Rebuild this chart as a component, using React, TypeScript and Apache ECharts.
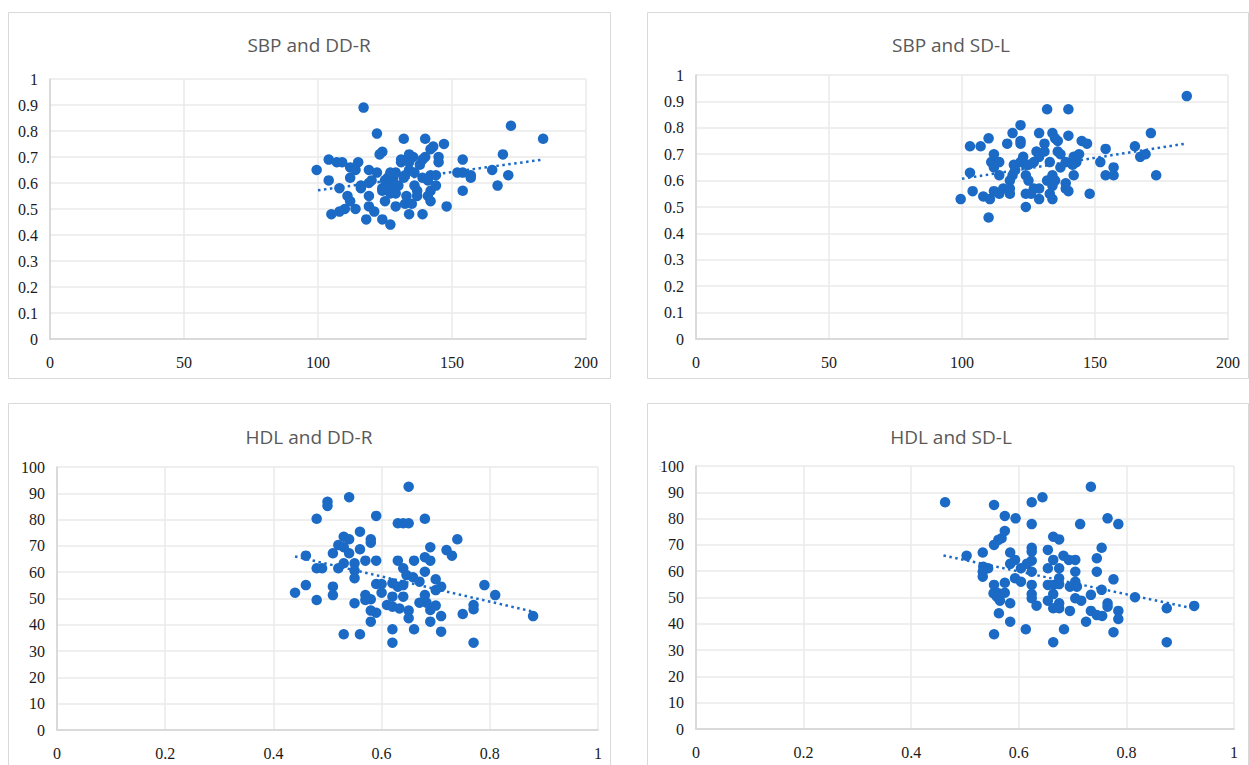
import { useEffect, useRef } from "react";
import * as echarts from "echarts";

const W = 1249;
const H = 765;

const titles = ["SBP and DD-R", "SBP and SD-L", "HDL and DD-R", "HDL and SD-L"];

// SBP (x) vs DD-R (y)
const sbpDdr: [number, number][] = [
  [117, 0.89], [122, 0.79], [132, 0.77], [140, 0.77], [147, 0.75], [143, 0.74], [142, 0.73], [124, 0.72],
  [123, 0.71], [134, 0.71], [135.5, 0.7], [140, 0.7], [145, 0.7], [145, 0.68], [154, 0.69], [172, 0.82],
  [184, 0.77], [169, 0.71], [165, 0.65], [171, 0.63], [167, 0.59], [154, 0.57], [157, 0.63], [157, 0.62],
  [152, 0.64], [154, 0.64], [148, 0.51], [99.5, 0.65], [104, 0.69], [107, 0.68], [109, 0.68], [112, 0.66],
  [115, 0.68], [114, 0.65], [104, 0.61], [112, 0.62], [108, 0.58], [116, 0.58], [119, 0.6], [119, 0.65],
  [122, 0.64], [111, 0.55], [112, 0.53], [114, 0.5], [110, 0.5], [108, 0.49], [105, 0.48], [118, 0.46],
  [119, 0.55], [119, 0.51], [121, 0.49], [124, 0.46], [127, 0.44], [129, 0.51], [125, 0.53], [124, 0.57],
  [124, 0.58], [127, 0.59], [128, 0.62], [126, 0.62], [129, 0.64], [131, 0.68], [131, 0.69], [134, 0.68],
  [134, 0.65], [132.5, 0.63], [130, 0.59], [129, 0.56], [127, 0.56], [133, 0.55], [132.5, 0.52], [135, 0.52],
  [134, 0.48], [139, 0.48], [137, 0.57], [136, 0.59], [139, 0.62], [141, 0.61], [142, 0.57], [141, 0.55],
  [142, 0.53], [142, 0.63], [144, 0.63], [144, 0.59], [139, 0.69], [138, 0.67], [136, 0.64], [132, 0.62],
  [127, 0.64], [125, 0.61], [120, 0.61], [116, 0.59], [137, 0.55],
];

// SBP (x) vs SD-L (y)
const sbpSdl: [number, number][] = [
  [184.5, 0.92], [132, 0.87], [140, 0.87], [122, 0.81], [119, 0.78], [129, 0.78], [134, 0.78], [140, 0.77],
  [136, 0.75], [135, 0.76], [110, 0.76], [103, 0.73], [107, 0.73], [117, 0.74], [122, 0.75], [122, 0.74],
  [131, 0.74], [145, 0.75], [147, 0.74], [154, 0.72], [165, 0.73], [171, 0.78], [167, 0.69], [169, 0.7],
  [173, 0.62], [154, 0.62], [157, 0.62], [157, 0.65], [152, 0.67], [148, 0.55], [112, 0.7], [111, 0.67],
  [114, 0.67], [112, 0.65], [114, 0.62], [103, 0.63], [104, 0.56], [99.5, 0.53], [108, 0.54], [110.5, 0.53],
  [112, 0.56], [114, 0.55], [110, 0.46], [115.5, 0.57], [118, 0.57], [118, 0.55], [119, 0.62], [119.5, 0.66],
  [122, 0.67], [124, 0.66], [123, 0.69], [125, 0.66], [127, 0.67], [128, 0.71], [129, 0.69], [131, 0.71],
  [136, 0.71], [137, 0.7], [139, 0.67], [142, 0.69], [144, 0.7], [143, 0.67], [141.6, 0.66], [142, 0.62],
  [137, 0.65], [133, 0.67], [124, 0.62], [125, 0.6], [127, 0.57], [129, 0.57], [126, 0.55], [124, 0.55],
  [129, 0.53], [133, 0.55], [134, 0.53], [132, 0.6], [134, 0.62], [135, 0.6], [134, 0.58], [139, 0.59],
  [139, 0.57], [140, 0.56], [124, 0.5], [118, 0.6], [120, 0.64],
];

// DD-R (x) vs HDL (y)
const hdlDdr: [number, number][] = [
  [0.65, 92.5], [0.54, 88.5], [0.5, 86.8], [0.5, 85.2], [0.48, 80.3], [0.59, 81.4], [0.63, 78.6], [0.64, 78.6],
  [0.65, 78.6], [0.68, 80.3], [0.56, 75.4], [0.53, 73.5], [0.54, 72.5], [0.58, 72.5], [0.58, 71.2], [0.74, 72.5],
  [0.52, 70.3], [0.53, 69.5], [0.56, 68.7], [0.51, 67.2], [0.54, 67.2], [0.46, 66.3], [0.69, 69.5], [0.72, 68.4],
  [0.73, 66.3], [0.68, 65.7], [0.69, 64.4], [0.66, 64.4], [0.63, 64.4], [0.59, 64.4], [0.57, 64.4], [0.53, 63.4],
  [0.55, 63.4], [0.52, 61.5], [0.48, 61.5], [0.49, 61.5], [0.55, 60.6], [0.55, 57.7], [0.64, 61.5], [0.646, 58.9],
  [0.658, 58.1], [0.67, 56.4], [0.68, 60.2], [0.7, 57.3], [0.71, 54.5], [0.7, 53.2], [0.79, 55.1], [0.81, 51.3],
  [0.88, 43.3], [0.77, 47.5], [0.77, 45.9], [0.75, 44.1], [0.77, 33.2], [0.71, 43.3], [0.71, 37.4], [0.69, 41.2],
  [0.66, 38.3], [0.62, 38.3], [0.62, 33.2], [0.56, 36.4], [0.53, 36.4], [0.58, 41.2], [0.59, 44.6], [0.58, 45.4],
  [0.57, 51.3], [0.57, 49.4], [0.58, 49.7], [0.55, 48.2], [0.51, 54.5], [0.51, 51.3], [0.48, 49.4], [0.46, 55.1],
  [0.44, 52.2], [0.59, 55.5], [0.6, 55.5], [0.6, 52.2], [0.62, 55.8], [0.63, 54.5], [0.64, 55.1], [0.62, 50.7],
  [0.64, 50.7], [0.61, 47.5], [0.62, 46.9], [0.633, 46.2], [0.65, 45.4], [0.65, 42.5], [0.67, 48.4], [0.68, 51.3],
  [0.683, 48.4], [0.69, 45.6], [0.7, 47.3],
];

// SD-L (x) vs HDL (y)
const hdlSdl: [number, number][] = [
  [0.734, 92.1], [0.463, 86.2], [0.554, 85.2], [0.624, 86.2], [0.644, 88.1], [0.574, 81], [0.594, 80.1], [0.624, 77.9],
  [0.714, 77.9], [0.765, 80.1], [0.785, 77.9], [0.574, 75.3], [0.568, 72.5], [0.562, 71.9], [0.554, 70], [0.664, 73.1],
  [0.675, 72.1], [0.754, 68.9], [0.624, 68.9], [0.624, 67.4], [0.654, 68.1], [0.584, 67.1], [0.533, 67.1], [0.503, 65.9],
  [0.683, 65.9], [0.693, 64.3], [0.705, 64.3], [0.745, 64.9], [0.664, 64.3], [0.624, 64], [0.615, 62.8], [0.593, 64.3],
  [0.584, 62.8], [0.604, 61.1], [0.534, 61.7], [0.543, 61.1], [0.533, 59.8], [0.533, 57.9], [0.624, 59.8], [0.654, 61.1],
  [0.675, 61.1], [0.705, 59.8], [0.745, 59.8], [0.776, 56.9], [0.593, 57.3], [0.604, 56], [0.574, 55.6], [0.554, 54.8],
  [0.624, 54.8], [0.654, 54.8], [0.664, 54.8], [0.675, 55.1], [0.675, 57.3], [0.695, 54.1], [0.705, 56], [0.708, 54.1],
  [0.754, 52.9], [0.816, 50.1], [0.553, 51.6], [0.562, 51.6], [0.574, 51.8], [0.559, 50.3], [0.565, 48.8], [0.624, 51.3],
  [0.624, 49.7], [0.664, 51.3], [0.654, 48.8], [0.705, 49.7], [0.716, 48.8], [0.734, 51], [0.584, 47.8], [0.633, 46.9],
  [0.664, 45.9], [0.675, 45.9], [0.675, 47.8], [0.695, 44.9], [0.734, 44.9], [0.745, 43.3], [0.755, 43], [0.765, 47.8],
  [0.765, 46.5], [0.785, 44.9], [0.785, 41.8], [0.725, 40.8], [0.776, 36.8], [0.875, 45.9], [0.926, 46.8], [0.875, 33],
  [0.664, 33], [0.684, 37.9], [0.613, 37.9], [0.554, 36], [0.584, 40.8], [0.563, 44],
];

// linear trendline endpoints
const trendSbpDdr: [number, number][] = [[100, 0.572], [184, 0.69]];
const trendSbpSdl: [number, number][] = [[100, 0.607], [184, 0.74]];
const trendHdlDdr: [number, number][] = [[0.44, 66], [0.88, 45]];
const trendHdlSdl: [number, number][] = [[0.46, 66], [0.92, 46]];

const xRanges = [
  { min: 0, max: 200, interval: 50 },
  { min: 0, max: 200, interval: 50 },
  { min: 0, max: 1, interval: 0.2 },
  { min: 0, max: 1, interval: 0.2 },
];
const yRanges = [
  { min: 0, max: 1, interval: 0.1 },
  { min: 0, max: 1, interval: 0.1 },
  { min: 0, max: 100, interval: 10 },
  { min: 0, max: 100, interval: 10 },
];

const BLUE = "#1b6ac5";

export default function App() {
  const ref = useRef<HTMLDivElement>(null);
  useEffect(() => {
    document.body.style.margin = "0";
    const chart = echarts.init(ref.current!, null, { renderer: "svg" });

    const grids = [
      { left: 50, top: 79, width: 536, height: 260 },
      { left: 696, top: 75, width: 532, height: 264 },
      { left: 57, top: 467, width: 541, height: 263 },
      { left: 696, top: 466, width: 538, height: 263 },
    ];
    const scatterData = [sbpDdr, sbpSdl, hdlDdr, hdlSdl];
    const trends = [trendSbpDdr, trendSbpSdl, trendHdlDdr, trendHdlSdl];

    const labelStyle = {
      color: "#1a1a1a",
      fontFamily: '"Liberation Serif", "DejaVu Serif", serif',
      fontSize: 16,
    };

    const panels = [
      { x: 8.5, y: 12.5, w: 602, h: 366 },
      { x: 647.5, y: 12.5, w: 601, h: 366 },
      { x: 8.5, y: 403.5, w: 602, h: 400 },
      { x: 647.5, y: 403.5, w: 601, h: 400 },
    ];
    const titlePos = [
      { x: 309, y: 45 },
      { x: 951, y: 45 },
      { x: 309, y: 437 },
      { x: 951, y: 437 },
    ];

    const graphic: any[] = [];
    panels.forEach((p) => {
      graphic.push({
        type: "rect",
        z: -10,
        silent: true,
        shape: { x: p.x, y: p.y, width: p.w, height: p.h },
        style: { fill: "#ffffff", stroke: "#d9d9d9", lineWidth: 1 },
      });
    });
    titles.forEach((t, i) => {
      graphic.push({
        type: "text",
        x: titlePos[i].x,
        y: titlePos[i].y,
        style: {
          text: t,
          fill: "#595959",
          font: '19px "Open Sans", sans-serif',
          align: "center",
          verticalAlign: "middle",
        },
      });
    });
    graphic.push({
      type: "text",
      x: 660,
      y: 466,
      style: { text: ":", fill: "#b0b0b0", font: '8px "Open Sans"', align: "center", verticalAlign: "middle" },
    });

    const option: any = {
      animation: false,
      backgroundColor: "#ffffff",
      graphic,
      grid: grids,
      xAxis: xRanges.map((r, i) => ({
        gridIndex: i,
        type: "value",
        min: r.min,
        max: r.max,
        interval: r.interval,
        axisLine: { show: true, onZero: true, lineStyle: { color: "#d3d3d3", width: 1.5 } },
        axisTick: { show: false },
        splitLine: { show: true, lineStyle: { color: "#eaeaea", width: 1.5 } },
        axisLabel: { ...labelStyle, margin: 15, showMinLabel: true, showMaxLabel: true },
      })),
      yAxis: yRanges.map((r, i) => ({
        gridIndex: i,
        type: "value",
        min: r.min,
        max: r.max,
        interval: r.interval,
        axisLine: { show: true, lineStyle: { color: "#d3d3d3", width: 1.5 } },
        axisTick: { show: false },
        splitLine: { show: true, lineStyle: { color: "#eaeaea", width: 1.5 } },
        axisLabel: { ...labelStyle, margin: 12, showMinLabel: true, showMaxLabel: true },
      })),
      series: [
        ...scatterData.map((d, i) => ({
          type: "scatter",
          xAxisIndex: i,
          yAxisIndex: i,
          data: d,
          symbolSize: 10.5,
          itemStyle: { color: BLUE, opacity: 1 },
          z: 3,
        })),
        ...trends.map((d, i) => ({
          type: "line",
          xAxisIndex: i,
          yAxisIndex: i,
          data: d,
          symbol: "none",
          lineStyle: { color: BLUE, width: 2.5, type: [2.5, 3.5] },
          z: 4,
        })),
      ],
    };
    chart.setOption(option);
    return () => chart.dispose();
  }, []);
  return <div ref={ref} style={{ width: W, height: H }} />;
}
